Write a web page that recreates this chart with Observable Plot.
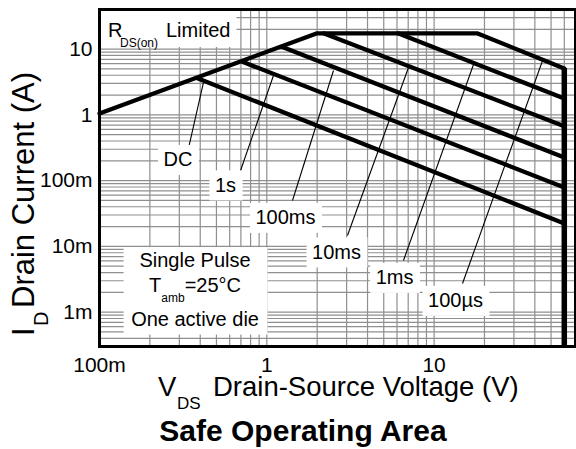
<!DOCTYPE html>
<html><head><meta charset="utf-8">
<script src="https://cdn.jsdelivr.net/npm/d3@7"></script>
<script src="https://cdn.jsdelivr.net/npm/@observablehq/plot@0.6"></script>
<style>
body{margin:0;background:#fff;}
</style></head><body><div id="chart"></div>
<script>
// axes
const xDomain = [0.1, 70];
const yDomain = [0.0003, 40];
const xTickValues = [0.1, 1, 10];
const xTickLabels = ["100m", "1", "10"];
const yTickValues = [0.001, 0.01, 0.1, 1, 10];
const yTickLabels = ["1m", "10m", "100m", "1", "10"];

// SOA envelope: RDS(on) limit -> current limit -> 100µs line
const envelopeV = [0.1, 1.98, 18.2, 60];
const envelopeI = [1.05, 17.3, 17.3, 5.07];
const vLimit = 60; // maximum VDS (vertical limit)

// other pulse-width lines (start on the envelope, end at vLimit)
const pulseNames = ["DC", "1s", "100ms", "10ms", "1ms"];
const pulseStartV = [0.385, 0.716, 1.24, 2.2, 6.13];
const pulseStartI = [3.6, 6.4, 10.8, 17.3, 17.3];
const pulseEndI = [0.0223, 0.0786, 0.225, 0.67, 1.77];

// curve labels and leader lines
const labelNames = ["DC", "1s", "100ms", "10ms", "1ms", "100µs"];
const labelV = [0.2945, 0.5664, 1.2935, 2.61, 5.80, 13.43];
const labelI = [0.2057, 0.0842, 0.02701, 0.00807, 0.0033, 0.001477];
const leaderFromV = [0.34, 0.697, 1.424, 3.035, 6.56, 14.78];
const leaderFromI = [0.3076, 0.1425, 0.0498, 0.01464, 0.0061, 0.00272];
const leaderToV = [0.418, 1.096, 2.504, 7.03, 17.2, 44.5];
const leaderToI = [3.1, 3.97, 4.72, 5.25, 5.83, 6.71];

// annotation block
const annV = 0.3725;
const annLines = ["Single Pulse", "One active die"];
const annLineI = [0.00616, 0.000767];
const annTambI = 0.0025;

const xGrid = d3.scaleLog().domain(xDomain).ticks();
const yGrid = d3.scaleLog().domain(yDomain).ticks();

const envelope = envelopeV.map((v, k) => ({v, i: envelopeI[k]}));
const branches = pulseNames.flatMap((name, k) => [
  {name, v: pulseStartV[k], i: pulseStartI[k]},
  {name, v: vLimit, i: pulseEndI[k]}
]);
const labels = labelNames.map((name, k) => ({name, v: labelV[k], i: labelI[k]}));
const leaders = labelNames.map((name, k) => ({
  name, v1: leaderFromV[k], i1: leaderFromI[k], v2: leaderToV[k], i2: leaderToI[k]
}));
const ann = annLines.map((t, k) => ({t, v: annV, i: annLineI[k]}));

const chart = Plot.plot({
  width: 576,
  height: 449,
  marginLeft: 99,
  marginRight: 1,
  marginTop: 9,
  marginBottom: 103,
  x: {type: "log", domain: xDomain},
  y: {type: "log", domain: yDomain},
  style: {fontFamily: "'Liberation Sans', Arial, sans-serif", fontSize: "20px", color: "black", background: "white", overflow: "visible"},
  marks: [
    Plot.ruleX(xGrid, {stroke: "#8f8f8f", strokeWidth: 1.2}),
    Plot.ruleY(yGrid, {stroke: "#8f8f8f", strokeWidth: 1.2}),
    Plot.axisX(xTickValues, {tickFormat: d => xTickLabels[xTickValues.indexOf(d)], tickSize: 0, tickPadding: 11, fontSize: 21, label: null}),
    Plot.axisY(yTickValues, {tickFormat: d => yTickLabels[yTickValues.indexOf(d)], tickSize: 0, tickPadding: 7, fontSize: 21, label: null}),
    Plot.line(envelope, {x: "v", y: "i", stroke: "black", strokeWidth: 4.3, strokeLinejoin: "miter"}),
    Plot.line(branches, {x: "v", y: "i", z: "name", stroke: "black", strokeWidth: 4.3}),
    Plot.ruleX([vLimit], {y1: envelopeI[envelopeI.length - 1], y2: yDomain[0], stroke: "black", strokeWidth: 5.5}),
    Plot.link(leaders, {x1: "v1", y1: "i1", x2: "v2", y2: "i2", stroke: "black", strokeWidth: 1.1}),
    Plot.text(labels, {x: "v", y: "i", text: "name", fontSize: 20, fill: "black", className: "lbl"}),
    Plot.text(ann, {x: "v", y: "i", text: "t", fontSize: 20, fill: "black", className: "ann"}),
    Plot.frame({stroke: "black", strokeWidth: 3})
  ]
});
document.getElementById("chart").append(chart);

const svg = d3.select(chart);
const sx = chart.scale("x"), sy = chart.scale("y");
const svgRect = chart.getBoundingClientRect();
function boxOf(nodes) {
  let x0 = Infinity, y0 = Infinity, x1 = -Infinity, y1 = -Infinity;
  nodes.forEach(n => {
    const r = n.getBoundingClientRect();
    x0 = Math.min(x0, r.left - svgRect.left); y0 = Math.min(y0, r.top - svgRect.top);
    x1 = Math.max(x1, r.right - svgRect.left); y1 = Math.max(y1, r.bottom - svgRect.top);
  });
  return {x0, y0, x1, y1};
}

// Tamb line of the annotation block
const annGroup = svg.select("g.ann");
const tamb = annGroup.append("text")
  .attr("x", sx.apply(annV)).attr("y", sy.apply(annTambI))
  .attr("dy", "0.32em").attr("text-anchor", "middle").attr("font-size", 20);
tamb.append("tspan").text("T");
tamb.append("tspan").attr("font-size", 12).attr("dy", 10).text("amb");
tamb.append("tspan").attr("dy", -10).text("=25°C");

// white boxes behind curve labels
svg.selectAll("g.lbl text").each(function() {
  const b = boxOf([this]);
  svg.select("g.lbl").insert("rect", ":first-child")
    .attr("x", b.x0 - 6).attr("y", b.y0 - 4)
    .attr("width", b.x1 - b.x0 + 12).attr("height", b.y1 - b.y0 + 8)
    .attr("fill", "white");
});
// white box behind annotation block
{
  const b = boxOf(svg.selectAll("g.ann text").nodes());
  annGroup.insert("rect", ":first-child")
    .attr("x", b.x0 - 8).attr("y", b.y0 - 2)
    .attr("width", b.x1 - b.x0 + 16).attr("height", b.y1 - b.y0 + 6)
    .attr("fill", "white");
}

// RDS(on) Limited label in the top-left corner
{
  const fx = sx.apply(xDomain[0]), fy = sy.apply(yDomain[1]);
  const g = svg.insert("g", "g.lbl").attr("text-anchor", "start").attr("fill", "black");
  const rect = g.append("rect").attr("fill", "white");
  const t1 = g.append("text").attr("x", fx + 9).attr("y", fy + 28).attr("font-size", 20).text("R");
  const t2 = g.append("text").attr("x", fx + 21).attr("y", fy + 38).attr("font-size", 12).text("DS(on)");
  const t3 = g.append("text").attr("x", fx + 67).attr("y", fy + 28).attr("font-size", 20).text("Limited");
  const b = boxOf([t1.node(), t2.node(), t3.node()]);
  rect.attr("x", fx).attr("y", fy).attr("width", b.x1 + 6 - fx).attr("height", 38);
}

// axis titles
{
  const g = svg.append("g").attr("fill", "black").attr("text-anchor", "start");
  // x title
  g.append("text").attr("x", 158).attr("y", 396).attr("font-size", 27.5).text("V");
  g.append("text").attr("x", 177).attr("y", 409).attr("font-size", 17).text("DS");
  g.append("text").attr("x", 213).attr("y", 396).attr("font-size", 27.5).text("Drain-Source Voltage (V)");
  // y title
  g.append("text").attr("transform", "translate(34,72) rotate(-90)").attr("text-anchor", "end").attr("font-size", 31).text("Drain Current (A)");
  g.append("text").attr("transform", "translate(48,326) rotate(-90)").attr("font-size", 20).text("D");
  g.append("text").attr("transform", "translate(34,336) rotate(-90)").attr("font-size", 31).text("I");
  // chart title
  g.append("text").attr("x", 303).attr("y", 441).attr("text-anchor", "middle").attr("font-size", 30).attr("font-weight", "bold").text("Safe Operating Area");
}
</script></body></html>
